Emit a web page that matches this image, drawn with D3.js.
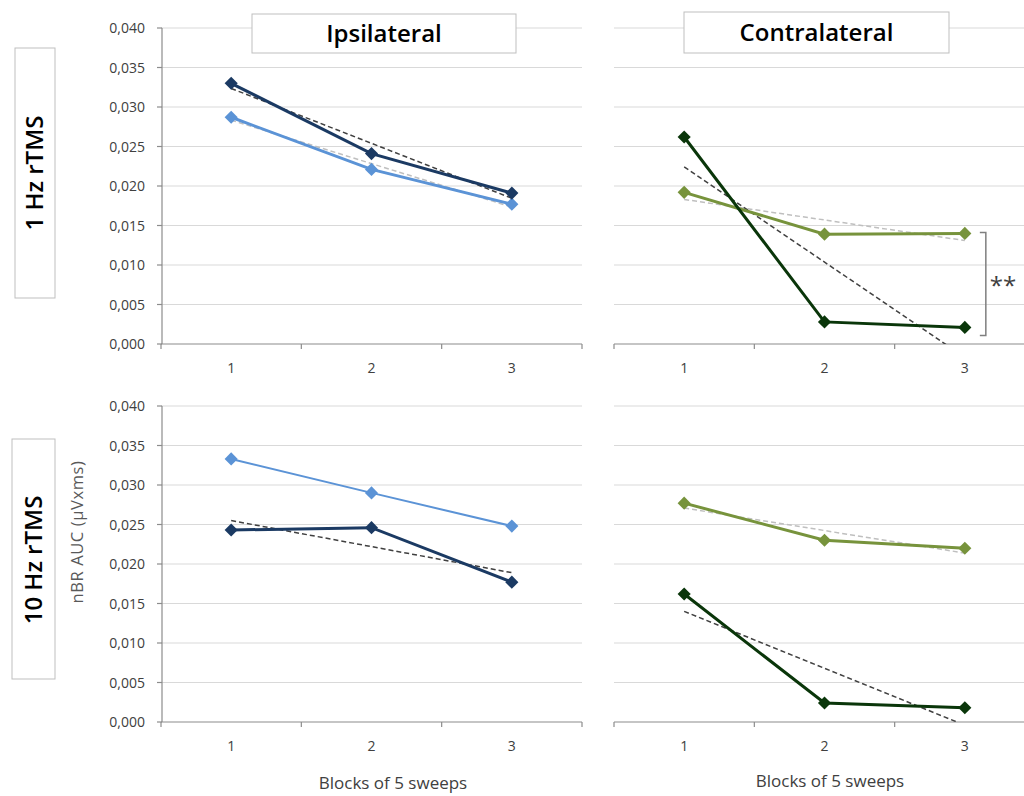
<!DOCTYPE html>
<html>
<head>
<meta charset="utf-8">
<script src="https://cdn.jsdelivr.net/npm/d3@7"></script>
<style>
  body { margin: 0; background: #fff; }
  svg { display: block; font-family: "Open Sans", sans-serif; }
</style>
</head>
<body>
<svg id="chart" width="1024" height="796"></svg>
<script>
// data
const blocks = ["1", "2", "3"];
const yTicks = [0, 0.005, 0.010, 0.015, 0.020, 0.025, 0.030, 0.035, 0.040];
const colTitles = ["Ipsilateral", "Contralateral"];
const rowTitles = ["1 Hz rTMS", "10 Hz rTMS"];

const ipsi1Dark = [0.0330, 0.0241, 0.0191];
const ipsi1Light = [0.0287, 0.0221, 0.0177];
const contra1Dark = [0.0262, 0.0028, 0.0021];
const contra1Light = [0.0192, 0.0139, 0.0140];
const ipsi10Dark = [0.0243, 0.0246, 0.0177];
const ipsi10Light = [0.0333, 0.0290, 0.0248];
const contra10Dark = [0.0162, 0.0024, 0.0018];
const contra10Light = [0.0277, 0.0230, 0.0220];

const svg = d3.select("#chart");

const cols = [[161, 582], [614, 1035]];
const rows = [[344, 28], [722, 406]];

const navy = "#1b3a63", sky = "#5b93d6", forest = "#0a360a", olive = "#77933c";

// series per panel: values, color, width, trend colour (null = none)
const panels = [
    { r: 0, c: 0, series: [
        { v: ipsi1Light, color: sky, w: 3, trend: "#bfbfbf" },
        { v: ipsi1Dark, color: navy, w: 3, trend: "#404040" }] },
    { r: 0, c: 1, series: [
        { v: contra1Light, color: olive, w: 3, trend: "#bfbfbf" },
        { v: contra1Dark, color: forest, w: 3, trend: "#404040" }] },
    { r: 1, c: 0, series: [
        { v: ipsi10Light, color: sky, w: 2, trend: null },
        { v: ipsi10Dark, color: navy, w: 3, trend: "#404040" }] },
    { r: 1, c: 1, series: [
        { v: contra10Light, color: olive, w: 3, trend: "#bfbfbf" },
        { v: contra10Dark, color: forest, w: 3, trend: "#404040" }] },
];

const fmt = d => d3.format(".3f")(d).replace(".", ",");

// simple least squares on block index
function fit(vals) {
    const xs = vals.map((d, i) => i + 1);
    const mx = d3.mean(xs), my = d3.mean(vals);
    const b = d3.sum(xs, (x, i) => (x - mx) * (vals[i] - my)) / d3.sum(xs, x => (x - mx) ** 2);
    return i => my + b * (i + 1 - mx);
}

panels.forEach((p, k) => {
    const x = d3.scaleBand().domain(blocks).range(cols[p.c]);
    const y = d3.scaleLinear().domain([0, 0.04]).range(rows[p.r]);
    const g = svg.append("g");
    const clipId = "clip" + k;
    svg.append("clipPath").attr("id", clipId).append("rect")
        .attr("x", cols[p.c][0]).attr("y", rows[p.r][1])
        .attr("width", cols[p.c][1] - cols[p.c][0]).attr("height", rows[p.r][0] - rows[p.r][1]);

    // grid
    g.selectAll(".grid").data(yTicks.slice(1)).enter().append("line")
        .attr("x1", cols[p.c][0]).attr("x2", cols[p.c][1])
        .attr("y1", d => y(d)).attr("y2", d => y(d))
        .attr("stroke", "#d9d9d9").attr("stroke-width", 1.2);

    // x axis
    const xa = g.append("g").attr("transform", `translate(0,${rows[p.r][0]})`);
    xa.append("line").attr("x1", cols[p.c][0]).attr("x2", cols[p.c][1])
        .attr("stroke", "#8c8c8c").attr("stroke-width", 1.2);
    const edges = blocks.map(b => x(b)).concat([x(blocks[2]) + x.bandwidth()]);
    xa.selectAll(".tk").data(edges).enter().append("line")
        .attr("x1", d => d).attr("x2", d => d).attr("y1", 0).attr("y2", 5)
        .attr("stroke", "#8c8c8c").attr("stroke-width", 1.2);
    xa.selectAll(".lb").data(blocks).enter().append("text")
        .attr("x", d => x(d) + x.bandwidth() / 2).attr("y", 29)
        .attr("text-anchor", "middle").attr("font-size", 14).attr("fill", "#404040")
        .text(d => d);

    // y axis only on left column
    if (p.c === 0) {
        const ya = g.append("g").attr("transform", `translate(${cols[0][0] + 1},0)`);
        ya.append("line").attr("y1", rows[p.r][0]).attr("y2", rows[p.r][1])
            .attr("stroke", "#8c8c8c").attr("stroke-width", 1.2);
        ya.selectAll(".tk").data(yTicks).enter().append("line")
            .attr("x1", -5).attr("x2", 0).attr("y1", d => y(d)).attr("y2", d => y(d))
            .attr("stroke", "#8c8c8c").attr("stroke-width", 1.2);
        ya.selectAll(".lb").data(yTicks).enter().append("text")
            .attr("x", -17).attr("y", d => y(d) + 5)
            .attr("text-anchor", "end").attr("font-size", 14).attr("fill", "#404040")
            .text(fmt);
    }

    const cx = (d, i) => x(blocks[i]) + x.bandwidth() / 2;

    // trend lines underneath
    p.series.forEach(s => {
        if (!s.trend) return;
        const f = fit(s.v);
        g.append("line").attr("clip-path", `url(#${clipId})`)
            .attr("x1", cx(null, 0)).attr("x2", cx(null, 2))
            .attr("y1", y(f(0))).attr("y2", y(f(2)))
            .attr("stroke", s.trend).attr("stroke-width", 1.5)
            .attr("stroke-dasharray", "5,3");
    });

    p.series.forEach(s => {
        const line = d3.line().x(cx).y(d => y(d));
        g.append("path").datum(s.v).attr("d", line)
            .attr("fill", "none").attr("stroke", s.color).attr("stroke-width", s.w);
        g.selectAll(null).data(s.v).enter().append("path")
            .attr("d", d3.symbol(d3.symbolDiamond2, 110))
            .attr("transform", (d, i) => `translate(${cx(d, i)},${y(d)})`)
            .attr("fill", s.color);
    });

    // significance bracket in 1 Hz contralateral
    if (p.r === 0 && p.c === 1) {
        const bx = x("3") + x.bandwidth() / 2 + 21;
        const y1 = y(contra1Light[2]), y2 = y(contra1Dark[2]);
        g.append("path")
            .attr("d", `M${bx - 6},${y1 - 1}H${bx}V${y2 + 8}H${bx - 6}`)
            .attr("fill", "none").attr("stroke", "#7f7f7f").attr("stroke-width", 1.5);
        g.append("text").attr("x", bx + 4).attr("y", (y1 + y2) / 2 + 14)
            .attr("font-size", 24).attr("fill", "#404040").text("**");
    }
});

// column titles in boxes
const titleBoxes = [[252, 14, 264, 39], [684, 12, 265, 41]];
colTitles.forEach((t, i) => {
    const b = titleBoxes[i];
    svg.append("rect").attr("x", b[0]).attr("y", b[1]).attr("width", b[2]).attr("height", b[3])
        .attr("fill", "#fff").attr("stroke", "#bfbfbf").attr("stroke-width", 1);
    svg.append("text").attr("x", b[0] + b[2] / 2).attr("y", b[1] + b[3] / 2 + 8.5)
        .attr("text-anchor", "middle").attr("font-size", 24).attr("font-weight", 600)
        .attr("fill", "#000").text(t);
});

// row titles in boxes
const rowBoxes = [[15, 48, 40, 250], [12, 439, 43, 240]];
rowTitles.forEach((t, i) => {
    const b = rowBoxes[i];
    svg.append("rect").attr("x", b[0]).attr("y", b[1]).attr("width", b[2]).attr("height", b[3])
        .attr("fill", "#fff").attr("stroke", "#bfbfbf").attr("stroke-width", 1);
    const cxr = b[0] + b[2] / 2 + 8, cyr = [173, 560][i];
    svg.append("text").attr("transform", `translate(${cxr},${cyr}) rotate(-90)`)
        .attr("text-anchor", "middle").attr("font-size", 24).attr("font-weight", 600)
        .attr("fill", "#000").text(t);
});

// y axis label
svg.append("text").attr("transform", "translate(83,532) rotate(-90)")
    .attr("text-anchor", "middle").attr("font-size", 16.5).attr("fill", "#595959")
    .attr("letter-spacing", 0.6)
    .text("nBR AUC (µVxms)");

// x axis titles
[[393, 789], [830, 787]].forEach(pos => {
    svg.append("text").attr("x", pos[0]).attr("y", pos[1])
        .attr("text-anchor", "middle").attr("font-size", 17).attr("fill", "#404040")
        .text("Blocks of 5 sweeps");
});
</script>
</body>
</html>
